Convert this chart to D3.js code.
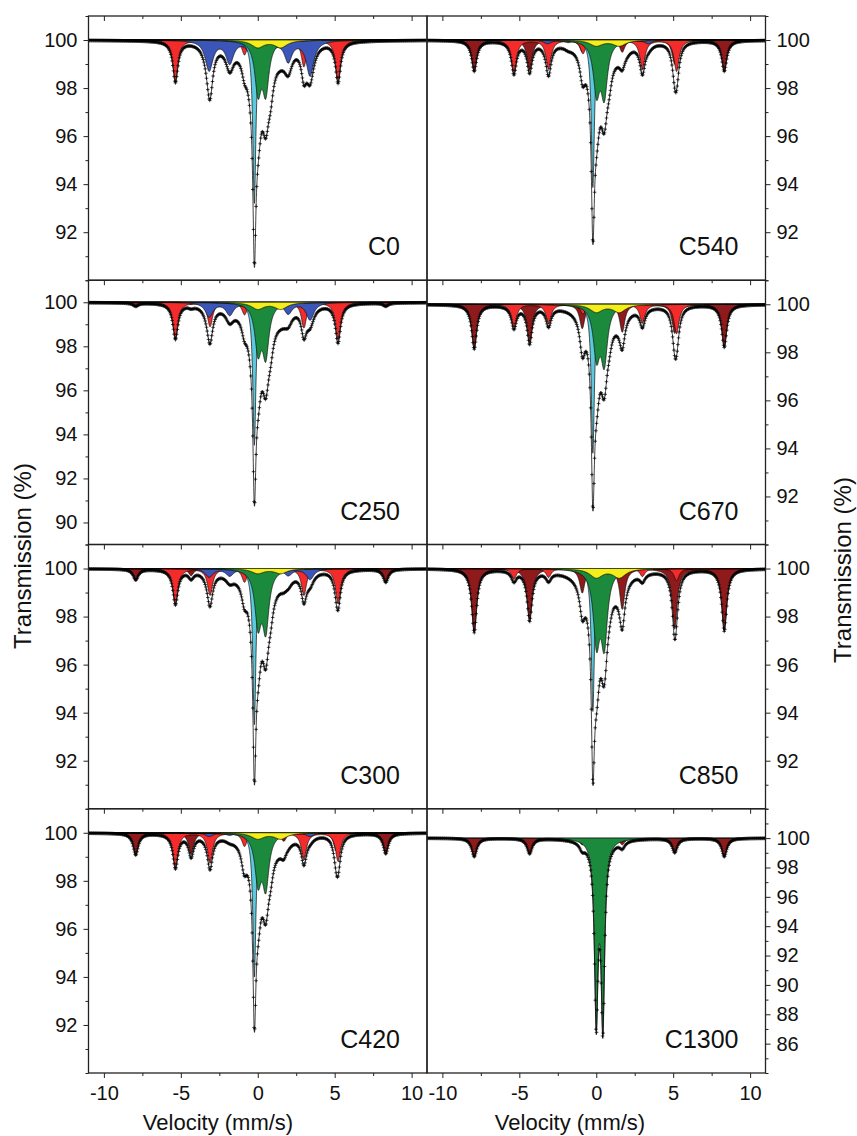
<!DOCTYPE html>
<html>
<head>
<meta charset="utf-8">
<style>
  body { margin: 0; background: #fff; }
  svg text { font-family: "Liberation Sans", Arial, sans-serif; fill: #111; }
</style>
<script src="https://cdn.jsdelivr.net/npm/d3@7"></script>
</head>
<body>
<script>
// panels, left column top to bottom, then right column
var panels = ["C0", "C250", "C300", "C420", "C540", "C670", "C850", "C1300"];

// line positions (mm/s) of each sub-spectrum
var posHem = [-7.93, -4.33, -0.91, 1.69, 5.10, 8.32];   // dark red sextet
var posFe = [-5.35, -3.10, -0.86, 0.84, 3.00, 5.22];    // red sextet
var posCem = [-3.16, -1.82, -0.50, 0.80, 1.98, 3.40];   // blue sextet
var posYellow = [0.00, 1.50];
var posGreen = [0.02, 0.52];
var posGreen1300 = [0.00, 0.43];
var posCyan = [-0.22];
var posBroad = [0.20];                                   // unfilled part of the fit

// line depths (%) per panel
var hemDepth = [
  [0, 0, 0, 0, 0, 0],
  [0.15, 0.10, 0.05, 0.05, 0.10, 0.15],
  [0.45, 0.30, 0.15, 0.15, 0.30, 0.55],
  [0.90, 0.90, 0.35, 0.35, 0.75, 0.85],
  [1.28, 1.25, 0.50, 0.50, 1.00, 1.28],
  [1.84, 1.56, 1.00, 1.15, 1.20, 1.77],
  [2.64, 2.10, 1.00, 1.68, 2.51, 2.58],
  [1.26, 1.04, 0.45, 0.45, 0.97, 1.26]
];
var feDepth = [
  [1.70, 1.10, 0.60, 0.60, 1.10, 1.70],
  [1.62, 1.09, 0.55, 0.55, 1.15, 1.70],
  [1.45, 1.10, 0.55, 0.55, 1.10, 1.45],
  [1.42, 1.25, 0.55, 0.55, 1.11, 1.18],
  [1.35, 1.20, 0.55, 0.55, 1.20, 1.30],
  [0.94, 0.80, 0.40, 0.40, 0.77, 1.22],
  [0.44, 0.37, 0.20, 0.20, 0.33, 0.50],
  [0, 0, 0, 0, 0, 0]
];
var cemDepth = [
  [1.25, 0.93, 0.45, 0.45, 0.86, 1.46],
  [0.65, 0.56, 0.28, 0.28, 0.50, 0.79],
  [0.35, 0.30, 0.15, 0.15, 0.28, 0.45],
  [0.15, 0.10, 0.05, 0.05, 0.10, 0.15],
  [0.15, 0.10, 0.05, 0.05, 0.10, 0.15],
  [0, 0, 0, 0, 0, 0],
  [0, 0, 0, 0, 0, 0],
  [0, 0, 0, 0, 0, 0]
];
var yellowDepth = [[0.30, 0.30], [0.30, 0.30], [0.20, 0.20], [0.25, 0.25], [0.24, 0.24], [0.32, 0.32], [0.37, 0.37], [0, 0]];
var greenDepth = [[2.05, 2.05], [2.10, 2.30], [2.20, 2.40], [1.95, 2.15], [2.07, 2.19], [2.07, 2.30], [2.90, 2.95], [11.9, 12.2]];
var cyanDepth = [[6.8], [6.5], [6.5], [6.0], [6.14], [6.2], [5.95], [0]];
var broadDepth = [[0.8], [1.0], [0.85], [0.8], [0.8], [0.75], [0.9], [0.3]];

// half widths (mm/s)
var hwSextet = 0.2, hwCem = 0.3, hwYellow = 0.5, hwCyan = 0.12, hwBroad = 1.0;
var hwGreen = [0.25, 0.25, 0.25, 0.25, 0.25, 0.25, 0.25, 0.14];

// axes
var yDomains = [[90, 101], [89, 101], [90, 101], [90, 101], [90, 101], [90, 101], [90, 101], [84, 102]];
var yTicks = [
  [92, 94, 96, 98, 100], [90, 92, 94, 96, 98, 100], [92, 94, 96, 98, 100], [92, 94, 96, 98, 100],
  [92, 94, 96, 98, 100], [92, 94, 96, 98, 100], [92, 94, 96, 98, 100], [86, 88, 90, 92, 94, 96, 98, 100]
];
var xTicks = [-10, -5, 0, 5, 10];
var xMinor = [-7.5, -2.5, 2.5, 7.5];

var colors = { hem: "#8e1a1c", fe: "#f42b2b", cem: "#3c55b8", cyan: "#5cc9de", green: "#1c8a3d", yellow: "#f4ee1c" };

var W = 857, H = 1136;
var colX = [88.5, 427], panelW = 338.5;
var rowY = [16, 280.25, 544.5, 808.75], panelH = 264.25;

var svg = d3.select("body").append("svg")
    .attr("width", W)
    .attr("height", H);

function lor(v, pos, dep, hw) {
  var s = 0;
  for (var k = 0; k < pos.length; k++) {
    var d = v - pos[k];
    s += dep[k] * hw * hw / (d * d + hw * hw);
  }
  return s;
}

var grid = d3.range(-11, 11.0001, 0.01);
var channels = d3.range(512).map(function(i) { return -11 + (i + 0.5) * 22 / 512; });

panels.forEach(function(name, i) {
  var col = i < 4 ? 0 : 1, row = i % 4;
  var x0 = colX[col], y0 = rowY[row];

  var x = d3.scaleLinear().domain([-11, 11]).range([x0, x0 + panelW]);
  var y = d3.scaleLinear().domain(yDomains[i]).range([y0 + panelH, y0]);

  var gp = posGreen;
  if (name == "C1300") gp = posGreen1300;

  var comps = [
    { key: "hem", f: function(v) { return lor(v, posHem, hemDepth[i], hwSextet); } },
    { key: "fe", f: function(v) { return lor(v, posFe, feDepth[i], hwSextet); } },
    { key: "cem", f: function(v) { return lor(v, posCem, cemDepth[i], hwCem); } },
    { key: "cyan", f: function(v) { return lor(v, posCyan, cyanDepth[i], hwCyan); } },
    { key: "green", f: function(v) { return lor(v, gp, greenDepth[i], hwGreen[i]); } },
    { key: "yellow", f: function(v) { return lor(v, posYellow, yellowDepth[i], hwYellow); } }
  ];
  var broad = function(v) { return lor(v, posBroad, broadDepth[i], hwBroad); };
  var total = function(v) {
    var s = broad(v);
    comps.forEach(function(c) { s += c.f(v); });
    return 100 - s;
  };

  var clipId = "clip" + i;
  svg.append("clipPath").attr("id", clipId)
    .append("rect").attr("x", x0).attr("y", y0).attr("width", panelW).attr("height", panelH);

  var g = svg.append("g").attr("clip-path", "url(#" + clipId + ")");

  comps.forEach(function(c) {
    var maxd = d3.max(grid, c.f);
    if (maxd < 0.01) return;
    var area = d3.area()
        .x(function(v) { return x(v); })
        .y0(y(100))
        .y1(function(v) { return y(100 - c.f(v)); });
    g.append("path")
        .datum(grid)
        .attr("fill", colors[c.key])
        .attr("stroke", "#111")
        .attr("stroke-width", 0.7)
        .attr("d", area);
  });

  // fit envelope
  var line = d3.line()
      .x(function(v) { return x(v); })
      .y(function(v) { return y(total(v)); });
  g.append("path")
      .datum(grid)
      .attr("fill", "none")
      .attr("stroke", "#111")
      .attr("stroke-width", 0.8)
      .attr("d", line);

  // data points as small crosses
  var p = "";
  channels.forEach(function(v) {
    var px = x(v), py = y(total(v));
    p += "M" + (px - 1.8) + "," + py + "h3.6M" + px + "," + (py - 1.8) + "v3.6";
  });
  g.append("path")
      .attr("d", p)
      .attr("fill", "none")
      .attr("stroke", "#000")
      .attr("stroke-width", 0.7);

  // frame
  svg.append("rect")
      .attr("x", x0).attr("y", y0)
      .attr("width", panelW).attr("height", panelH)
      .attr("fill", "none")
      .attr("stroke", "#222")
      .attr("stroke-width", 1.3);

  // y axis, outside edge
  var yMinor = d3.range(Math.ceil(yDomains[i][0]), yDomains[i][1] + 1, 1)
      .filter(function(t) { return yTicks[i].indexOf(t) < 0; });
  var yAxis, yAxisMinor, ax;
  if (col == 0) {
    yAxis = d3.axisLeft(y); yAxisMinor = d3.axisLeft(y); ax = x0;
  } else {
    yAxis = d3.axisRight(y); yAxisMinor = d3.axisRight(y); ax = x0 + panelW;
  }
  var ya = svg.append("g").attr("transform", "translate(" + ax + ",0)")
      .call(yAxis.tickValues(yTicks[i]).tickSize(5).tickPadding(6).tickFormat(function(d) { return String(d); }));
  ya.select(".domain").remove();
  ya.selectAll("text").style("font-size", "20px");
  var ym = svg.append("g").attr("transform", "translate(" + ax + ",0)")
      .call(yAxisMinor.tickValues(yMinor).tickSize(3).tickFormat(""));
  ym.select(".domain").remove();

  // x ticks along the top, pointing in
  var xt = svg.append("g").attr("transform", "translate(0," + y0 + ")")
      .call(d3.axisBottom(x).tickValues(xTicks).tickSize(5).tickFormat(""));
  xt.select(".domain").remove();
  var xtm = svg.append("g").attr("transform", "translate(0," + y0 + ")")
      .call(d3.axisBottom(x).tickValues(xMinor).tickSize(3).tickFormat(""));
  xtm.select(".domain").remove();

  if (row == 3) {
    var xb = svg.append("g").attr("transform", "translate(0," + (y0 + panelH) + ")")
        .call(d3.axisBottom(x).tickValues(xTicks).tickSize(5).tickPadding(8).tickFormat(function(d) { return String(d); }));
    xb.select(".domain").remove();
    xb.selectAll("text").style("font-size", "20px");
    var xbm = svg.append("g").attr("transform", "translate(0," + (y0 + panelH) + ")")
        .call(d3.axisBottom(x).tickValues(xMinor).tickSize(3).tickFormat(""));
    xbm.select(".domain").remove();

    svg.append("text")
        .attr("x", col == 0 ? 218 : 570)
        .attr("y", 1130)
        .attr("text-anchor", "middle")
        .style("font-size", "22px")
        .text("Velocity (mm/s)");
  }

  // sample label
  svg.append("text")
      .attr("x", x0 + panelW - 27)
      .attr("y", y0 + panelH - 25)
      .attr("text-anchor", "end")
      .style("font-size", "25px")
      .text(name);
});

svg.selectAll(".tick line").attr("stroke", "#222");

svg.append("text")
    .attr("transform", "translate(31,556) rotate(-90)")
    .attr("text-anchor", "middle")
    .style("font-size", "24px")
    .text("Transmission (%)");

svg.append("text")
    .attr("transform", "translate(851,570) rotate(-90)")
    .attr("text-anchor", "middle")
    .style("font-size", "24px")
    .text("Transmission (%)");
</script>
</body>
</html>
